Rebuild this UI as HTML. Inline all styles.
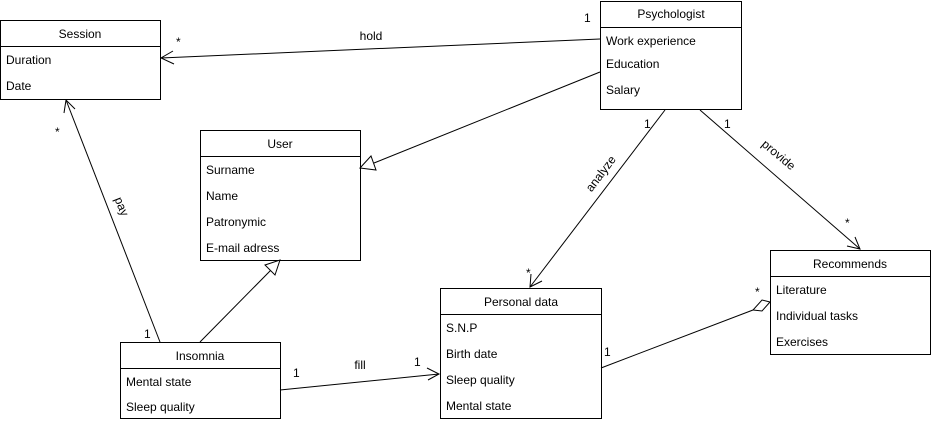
<!DOCTYPE html>
<html><head><meta charset="utf-8"><style>
html,body{margin:0;padding:0;background:#fff;}
svg{display:block;font-family:"Liberation Sans",Arial,sans-serif;font-size:12px;}
</style></head><body>
<svg width="931" height="422" viewBox="0 0 931 422" xmlns="http://www.w3.org/2000/svg">
<g fill="#fff" stroke="#000" stroke-width="1">
<rect x="0.5" y="20.5" width="160" height="79"/><line x1="0.5" y1="46.5" x2="160.5" y2="46.5"/>
<rect x="600.5" y="1.5" width="141" height="108"/><line x1="600.5" y1="27.5" x2="741.5" y2="27.5"/>
<rect x="200.5" y="130.5" width="160" height="130"/><line x1="200.5" y1="156.5" x2="360.5" y2="156.5"/>
<rect x="440.5" y="288.5" width="161" height="130"/><line x1="440.5" y1="314.5" x2="601.5" y2="314.5"/>
<rect x="770.5" y="250.5" width="160" height="104"/><line x1="770.5" y1="276.5" x2="930.5" y2="276.5"/>
<rect x="120.5" y="342.5" width="160" height="76"/><line x1="120.5" y1="368.5" x2="280.5" y2="368.5"/>
</g>
<g fill="none" stroke="#000" stroke-width="1">
<line x1="600" y1="39" x2="161" y2="58"/><polyline points="173,51 161,58 174,64"/>
<line x1="600" y1="72" x2="374" y2="163"/><polygon points="360,168 371,156 376,170" fill="#fff"/>
<line x1="665" y1="110" x2="530" y2="287"/><polyline points="531,274 530,287 542,281"/>
<line x1="700" y1="110" x2="860" y2="249"/><polyline points="847,246 860,249 855,237"/>
<line x1="160" y1="342" x2="66" y2="100"/><polyline points="64,113 66,100 75,109"/>
<line x1="200" y1="342" x2="271" y2="270"/><polygon points="280,260 275,275 265,265" fill="#fff"/>
<line x1="280" y1="390" x2="439" y2="374"/><polyline points="427,368 439,374 428,380"/>
<line x1="601" y1="368" x2="753" y2="310"/><polygon points="770,302 762,300 753,310 762,311" fill="#fff"/>
</g>
<g fill="#000">
<text x="80" y="38" text-anchor="middle">Session</text>
<text x="6" y="64">Duration</text><text x="6" y="90">Date</text>
<text x="671" y="18" text-anchor="middle">Psychologist</text>
<text x="606" y="45">Work experience</text><text x="606" y="68">Education</text><text x="606" y="94">Salary</text>
<text x="280" y="148" text-anchor="middle">User</text>
<text x="206" y="174">Surname</text><text x="206" y="200">Name</text><text x="206" y="226">Patronymic</text><text x="206" y="252">E-mail adress</text>
<text x="521" y="306" text-anchor="middle">Personal data</text>
<text x="446" y="332">S.N.P</text><text x="446" y="358">Birth date</text><text x="446" y="384">Sleep quality</text><text x="446" y="410">Mental state</text>
<text x="850" y="268" text-anchor="middle">Recommends</text>
<text x="776" y="294">Literature</text><text x="776" y="320">Individual tasks</text><text x="776" y="346">Exercises</text>
<text x="200" y="360" text-anchor="middle">Insomnia</text>
<text x="126" y="386">Mental state</text><text x="126" y="411">Sleep quality</text>
<text x="371" y="40" text-anchor="middle">hold</text>
<text x="584" y="22">1</text><text x="176" y="46">*</text>
<text x="644" y="128">1</text><text x="526" y="277">*</text>
<text x="724" y="128">1</text><text x="845" y="227">*</text>
<text x="55" y="136">*</text><text x="144" y="338">1</text>
<text x="293" y="377">1</text><text x="414" y="366">1</text>
<text x="360" y="369" text-anchor="middle">fill</text>
<text x="604" y="356">1</text><text x="755" y="296">*</text>
<text transform="translate(604,176) rotate(-53)" text-anchor="middle">analyze</text>
<text transform="translate(776,158) rotate(40)" text-anchor="middle">provide</text>
<text transform="translate(118,208) rotate(68)" text-anchor="middle">pay</text>
</g>
</svg>
</body></html>
